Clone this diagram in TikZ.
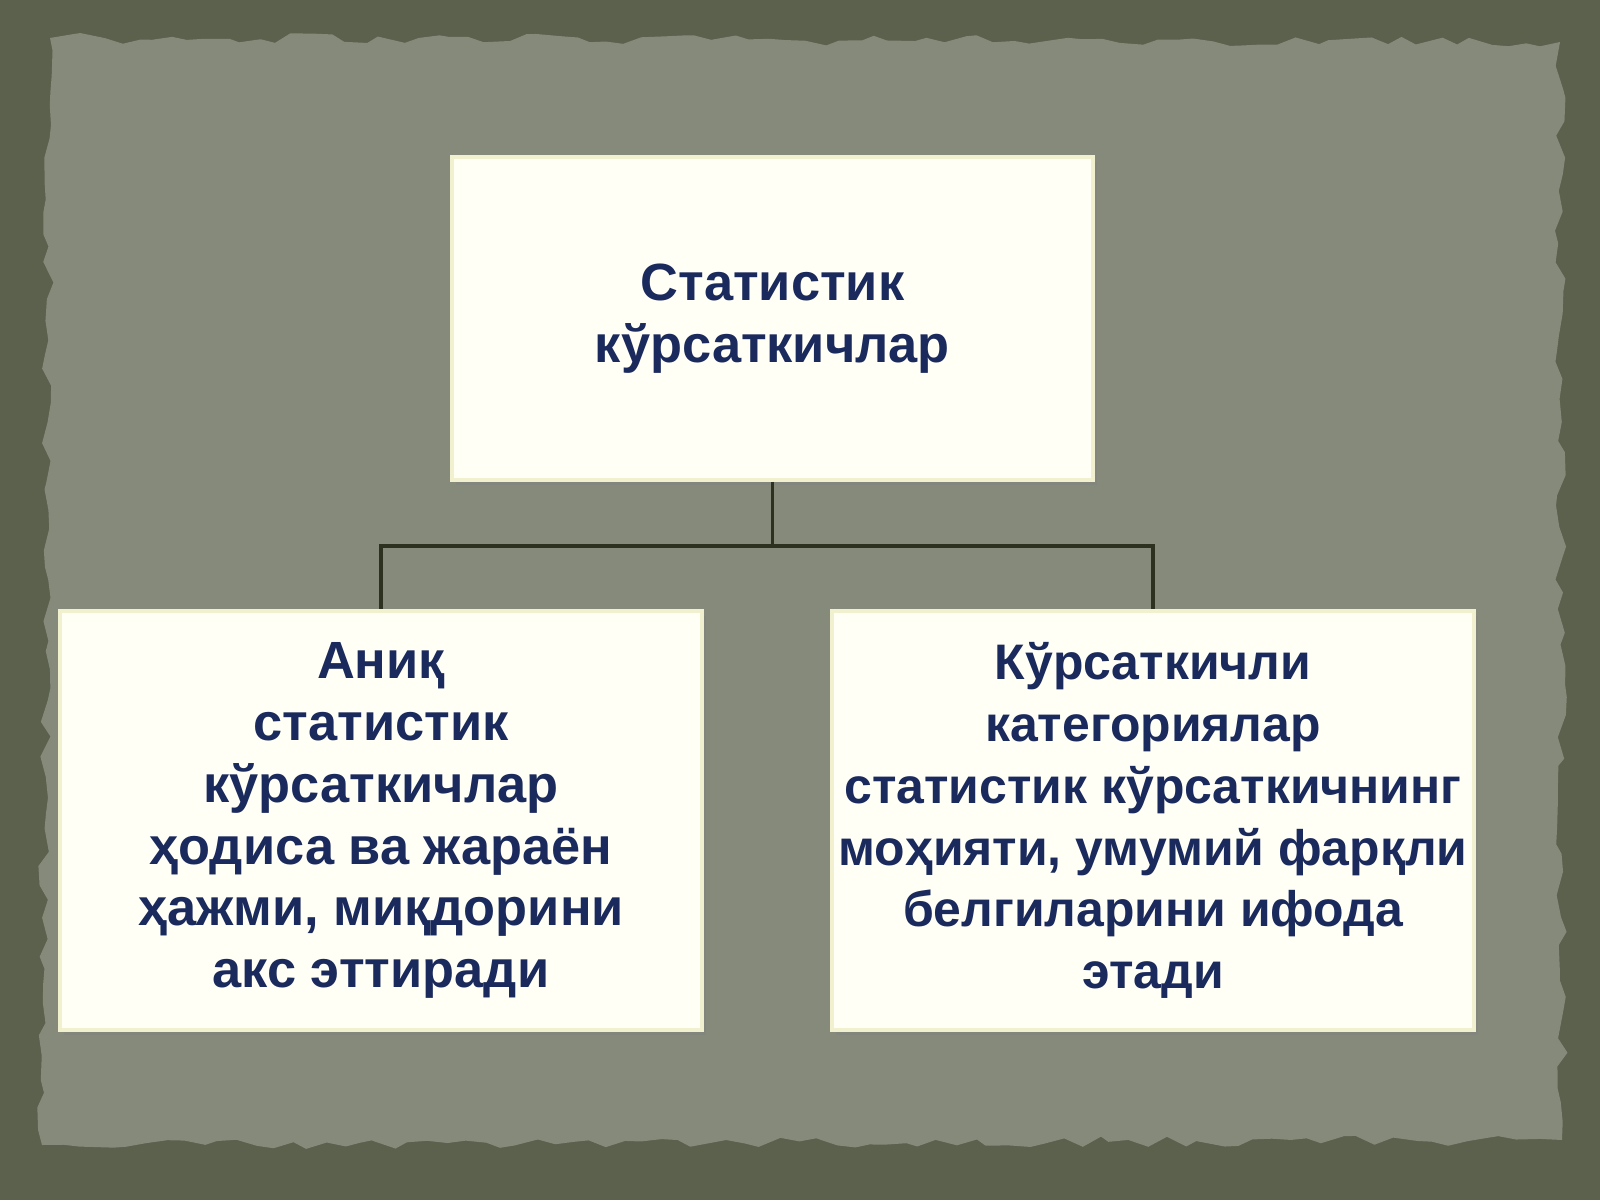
\documentclass[tikz,border=0pt]{standalone}
\usepackage{fontspec}
\setmainfont{Liberation Sans}
\usepackage{tikz}
\usetikzlibrary{shapes,arrows.meta,positioning,calc,decorations.pathmorphing,shadows}
\definecolor{frame}{HTML}{5B614D}
\definecolor{paper}{HTML}{858A7A}
\definecolor{navy}{HTML}{1B2A5C}
\definecolor{boxfill}{HTML}{FFFFF6}
\definecolor{boxedge}{HTML}{F2F1CF}
\definecolor{wire}{HTML}{2C3120}
\tikzstyle{card} = [rectangle,fill=boxfill,draw=boxedge,line width=1pt,text=navy,align=center,
  inner xsep=1pt,font=\bfseries\fontsize{14.9}{17.6}\selectfont,
  drop shadow={opacity=0.35,shadow xshift=0.04cm,shadow yshift=-0.05cm}]
\tikzstyle{link} = [draw=wire,line width=1.1pt]
\tikzset{>=latex}

\begin{document}
\begin{tikzpicture}
    \useasboundingbox (0,0) rectangle (16,12);
    \fill[frame] (0,0) rectangle (16,12);
    \pgfmathsetseed{11}
    \fill[paper,decorate,decoration={random steps,segment length=5pt,amplitude=1.6pt}]
      (0.42,0.55) -- (15.62,0.6) -- (15.6,11.58) -- (0.5,11.62) -- cycle;
    \node [card,minimum width=6.41cm,minimum height=3.23cm] (root) at (7.725,8.815)
      {Статистик\\кўрсаткичлар};
    \node [card,minimum width=6.42cm,minimum height=4.19cm] (exact) at (3.81,3.795)
      {Аниқ\\статистик\\кўрсаткичлар\\ҳодиса ва жараён\\ҳажми, миқдорини\\акс эттиради};
    \node [card,minimum width=6.42cm,minimum height=4.19cm,
      font=\bfseries\fontsize{14.2}{17.6}\selectfont] (categ) at (11.53,3.795)
      {Кўрсаткичли\\категориялар\\статистик кўрсаткичнинг\\моҳияти, умумий фарқли\\белгиларини ифода\\этади};
    \coordinate (fork) at ($(root.south)+(0,-0.64)$);
    \draw [link] (root.south) -- (fork) -| (exact.north);
    \draw [link] (fork) -| (categ.north);
\end{tikzpicture}
\end{document}
